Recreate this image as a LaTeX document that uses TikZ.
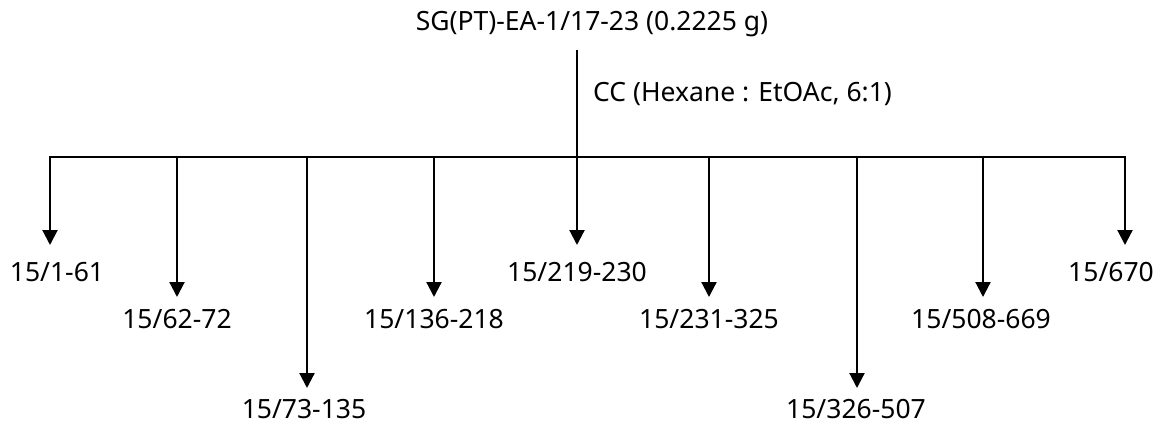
\documentclass[tikz,border=0pt]{standalone}
\usepackage{fontspec}
\setmainfont{Noto Sans}
\usetikzlibrary{arrows.meta}
\tikzset{
  lbl/.style={inner sep=0pt, font=\fontsize{26.5}{30}\selectfont},
  branch/.style={line width=2.2pt, -{Triangle[length=15pt,width=15pt]}},
  trunk/.style={line width=1.4pt},
  bar/.style={line width=2.2pt, line cap=rect},
}
\begin{document}
\begin{tikzpicture}[x=1pt,y=-1pt]
  \useasboundingbox (0,0) rectangle (1161,425);
  % starting sample and column conditions
  \node[lbl] (src) at (592,24) {SG(PT)-EA-1/17-23 (0.2225 g)};
  \coordinate (top) at (577,50);
  \coordinate (hub) at (577,157);
  \node[lbl, anchor=west] (cc) at (593,94) {CC (Hexane : EtOAc, 6:1)};
  \draw[trunk] (top) -- (hub);
  % distribution bar
  \coordinate (barL) at (50,157);
  \coordinate (barR) at (1125,157);
  \draw[bar] (barL) -- (barR);
  % fractions
  \foreach \n/\x/\tip/\ly/\lx/\txt in {
      a/50/245/272/57/15\slash 1-61,
      b/177/297/319/177/15\slash 62-72,
      c/307/388/409/304/15\slash 73-135,
      d/434/297/319/434/15\slash 136-218,
      e/577/245/272/577/15\slash 219-230,
      f/709/297/319/709/15\slash 231-325,
      g/857/388/409/856/15\slash 326-507,
      h/983/297/319/981/15\slash 508-669,
      i/1125/245/272/1111/15\slash 670}{
    \coordinate (s\n) at (\x,157);
    \coordinate (t\n) at (\x,\tip);
    \node[lbl] (f\n) at (\lx,\ly) {\txt};
    \draw[branch] (s\n) -- (t\n);
  }
\end{tikzpicture}
\end{document}
